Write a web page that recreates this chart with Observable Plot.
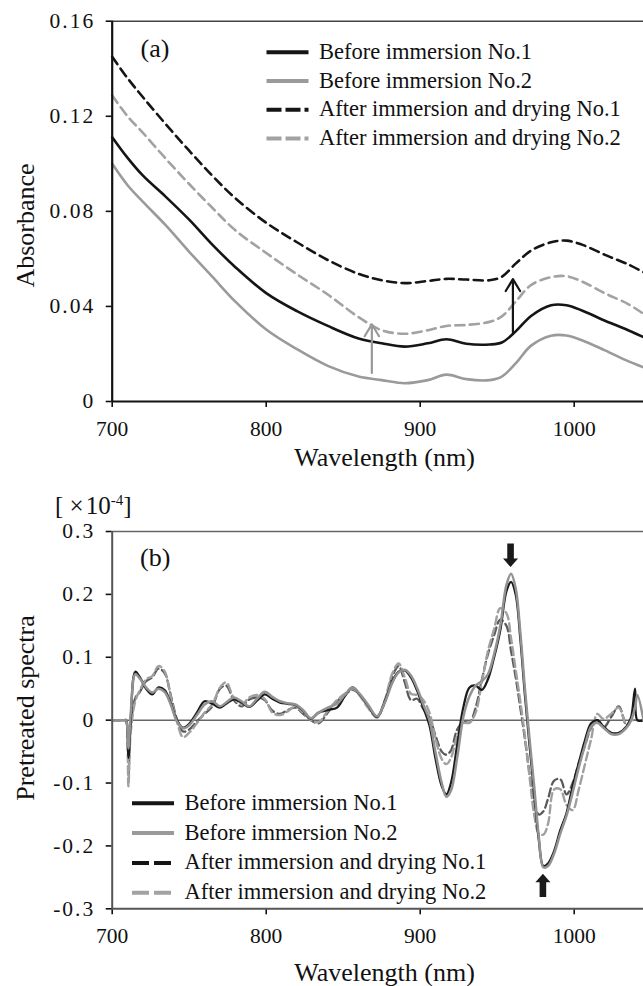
<!DOCTYPE html>
<html><head><meta charset="utf-8">
<script src="https://cdn.jsdelivr.net/npm/d3@7"></script>
<script src="https://cdn.jsdelivr.net/npm/@observablehq/plot@0.6"></script>
<style>
html,body{margin:0;padding:0;background:#fff;}
#wrap{position:relative;width:643px;height:986px;overflow:hidden;font-family:'Liberation Serif','DejaVu Serif',serif;}
#wrap svg{position:absolute;left:0;}
#wrap svg, #wrap svg text{font-family:'Liberation Serif','DejaVu Serif',serif !important;}
#wrap [aria-label="y-axis tick label"]{letter-spacing:2px;}
#wrap [aria-label="x-axis tick"], #wrap [aria-label="y-axis tick"]{stroke-width:1.6px;}
</style></head><body><div id="wrap"></div>
<script>
// ---------- data ----------
const seriesNames = ["Before immersion No.1", "Before immersion No.2", "After immersion and drying No.1", "After immersion and drying No.2"];
const xTicks = [700, 800, 900, 1000];
const xTickLabels = ["700", "800", "900", "1000"];
const topYTicks = [0, 0.04, 0.08, 0.12, 0.16];
const topYTickLabels = ["0", "0.04", "0.08", "0.12", "0.16"];
const botYTicks = [-0.3, -0.2, -0.1, 0, 0.1, 0.2, 0.3];
const botYTickLabels = ["-0.3", "-0.2", "-0.1", "0", "0.1", "0.2", "0.3"];

// (a) absorbance
const topWl      = [700, 710, 720, 735, 750, 765, 780, 800, 820, 840, 860, 875, 890, 905, 917, 930, 945, 953, 962, 972, 985, 995, 1005, 1020, 1035, 1045];
const topBefore1 = [0.1112, 0.1025, 0.0950, 0.0860, 0.0765, 0.0660, 0.0565, 0.0456, 0.0380, 0.0318, 0.0265, 0.0245, 0.0231, 0.0245, 0.0262, 0.0243, 0.0240, 0.0248, 0.0295, 0.0360, 0.0405, 0.0405, 0.0383, 0.0340, 0.0300, 0.0271];
const topBefore2 = [0.1000, 0.0910, 0.0840, 0.0740, 0.0630, 0.0525, 0.0420, 0.0303, 0.0220, 0.0150, 0.0105, 0.0090, 0.0077, 0.0090, 0.0113, 0.0094, 0.0090, 0.0105, 0.0160, 0.0235, 0.0277, 0.0278, 0.0258, 0.0215, 0.0170, 0.0144];
const topAfter1  = [0.1450, 0.1360, 0.1280, 0.1165, 0.1055, 0.0950, 0.0855, 0.0752, 0.0670, 0.0595, 0.0537, 0.0510, 0.0498, 0.0507, 0.0516, 0.0513, 0.0510, 0.0525, 0.0580, 0.0635, 0.0670, 0.0677, 0.0660, 0.0617, 0.0577, 0.0544];
const topAfter2  = [0.1287, 0.1200, 0.1130, 0.1020, 0.0915, 0.0815, 0.0720, 0.0625, 0.0535, 0.0450, 0.0355, 0.0300, 0.0285, 0.0300, 0.0318, 0.0322, 0.0335, 0.0358, 0.0420, 0.0490, 0.0523, 0.0527, 0.0505, 0.0455, 0.0410, 0.0369];
// arrows in (a)
const arrowWl   = [868.6, 960.2];
const arrowFrom = [0.012, 0.029];
const arrowTo   = [0.0325, 0.0515];

// (b) pretreated spectra (x 1e-4)
const botWl = [700, 708, 709, 710.5, 712, 715, 718, 722, 726, 730, 734, 738, 742, 746, 750, 755, 760, 765, 770, 774, 779, 784, 789, 794, 799, 804, 809, 814, 819, 824, 829, 834, 840, 846, 851, 856, 861, 866, 872, 877, 882, 886, 890, 894, 898, 902, 906, 910, 914, 917, 920, 924, 928, 932, 936, 940, 944, 948, 952, 956, 959, 962, 965, 968, 971, 974, 977, 980, 983, 987, 991, 995, 999, 1003, 1007, 1011, 1015, 1019, 1024, 1029, 1034, 1037, 1039.5, 1041, 1045];
const botBefore1 = [0, 0, 0, -0.06, 0.0, 0.077, 0.068, 0.050, 0.041, 0.052, 0.048, 0.027, 0.000, -0.012, -0.006, 0.012, 0.030, 0.026, 0.020, 0.026, 0.033, 0.028, 0.021, 0.031, 0.041, 0.034, 0.028, 0.026, 0.024, 0.015, 0.002, 0.012, 0.016, 0.020, 0.038, 0.052, 0.040, 0.024, 0.005, 0.030, 0.062, 0.077, 0.079, 0.068, 0.047, 0.020, -0.008, -0.062, -0.105, -0.118, -0.100, -0.040, 0.020, 0.052, 0.055, 0.048, 0.065, 0.100, 0.143, 0.205, 0.220, 0.200, 0.130, 0.040, -0.040, -0.115, -0.190, -0.232, -0.228, -0.208, -0.175, -0.148, -0.105, -0.068, -0.032, -0.005, 0.000, -0.010, -0.020, -0.020, -0.010, 0.005, 0.050, 0.000, 0.000];
const botBefore2 = [0, 0, 0, -0.045, 0.010, 0.073, 0.066, 0.052, 0.044, 0.050, 0.045, 0.025, -0.002, -0.013, -0.008, 0.008, 0.025, 0.030, 0.022, 0.028, 0.036, 0.030, 0.022, 0.034, 0.045, 0.037, 0.030, 0.027, 0.025, 0.016, 0.003, 0.012, 0.020, 0.026, 0.040, 0.052, 0.041, 0.025, 0.006, 0.028, 0.060, 0.076, 0.080, 0.071, 0.051, 0.025, 0.000, -0.052, -0.100, -0.122, -0.112, -0.060, 0.005, 0.038, 0.055, 0.062, 0.073, 0.105, 0.150, 0.215, 0.233, 0.210, 0.140, 0.050, -0.030, -0.105, -0.185, -0.234, -0.232, -0.212, -0.180, -0.152, -0.115, -0.075, -0.040, -0.010, -0.004, -0.012, -0.022, -0.022, -0.012, 0.000, 0.020, 0.040, 0.000];
const botAfter1 = [0, 0, 0, -0.09, -0.01, 0.035, 0.045, 0.062, 0.068, 0.082, 0.075, 0.040, 0.002, -0.018, -0.015, -0.002, 0.010, 0.022, 0.050, 0.055, 0.032, 0.022, 0.033, 0.036, 0.032, 0.015, 0.010, 0.016, 0.020, 0.010, 0.000, -0.005, 0.012, 0.030, 0.040, 0.048, 0.040, 0.022, 0.006, 0.028, 0.070, 0.086, 0.060, 0.032, 0.034, 0.018, 0.004, -0.025, -0.050, -0.055, -0.048, -0.015, -0.003, -0.004, 0.020, 0.064, 0.105, 0.135, 0.160, 0.150, 0.110, 0.068, 0.020, -0.030, -0.085, -0.130, -0.150, -0.145, -0.125, -0.096, -0.094, -0.118, -0.100, -0.068, -0.040, -0.012, 0.000, -0.012, 0.005, 0.022, -0.008, 0.000, 0.000, 0.000, 0.000];
const botAfter2 = [0, 0, 0, -0.105, -0.02, 0.030, 0.048, 0.065, 0.070, 0.086, 0.078, 0.038, -0.002, -0.027, -0.020, -0.005, 0.012, 0.025, 0.052, 0.060, 0.035, 0.025, 0.036, 0.040, 0.034, 0.012, 0.008, 0.014, 0.022, 0.012, 0.000, -0.003, 0.015, 0.032, 0.042, 0.050, 0.038, 0.020, 0.004, 0.032, 0.075, 0.090, 0.068, 0.042, 0.040, 0.032, 0.012, -0.030, -0.062, -0.070, -0.060, -0.025, -0.005, -0.004, 0.012, 0.060, 0.110, 0.145, 0.178, 0.170, 0.130, 0.080, 0.030, -0.025, -0.090, -0.150, -0.180, -0.182, -0.165, -0.110, -0.110, -0.135, -0.143, -0.110, -0.070, -0.030, 0.010, 0.002, 0.010, 0.020, -0.008, 0.000, 0.000, 0.000, 0.000];
// block arrows in (b)
const blockWl   = [959.0, 980.0];
const blockTail = [0.2803, -0.282];
const blockTip  = [0.2426, -0.2449];

// ---------- helpers ----------
const FONT = "'Liberation Serif','DejaVu Serif',serif";
const rows = (wl, v) => wl.map((w, i) => ({wl: w, v: v[i]}));
const mapFmt = (ticks, labels) => { const m = new Map(ticks.map((t, i) => [t, labels[i]])); return d => m.has(d) ? m.get(d) : String(d); };
const wrap = document.getElementById("wrap");

// ---------- (a) ----------
const topPlot = Plot.plot({
  width: 643, height: 470,
  marginTop: 20.7, marginBottom: 69, marginLeft: 111.7, marginRight: 0,
  style: {fontFamily: FONT, fontSize: "21.5px", color: "#111", background: "transparent", overflow: "visible"},
  x: {domain: [700, 1045], ticks: xTicks, tickFormat: mapFmt(xTicks, xTickLabels), tickSize: 6, tickPadding: 13, label: null},
  y: {domain: [0, 0.16], ticks: topYTicks, tickFormat: mapFmt(topYTicks, topYTickLabels), tickSize: 6, tickPadding: 11, label: null},
  marks: [
    Plot.ruleY([0.16], {stroke: "#444", strokeWidth: 1.4}),
    Plot.line(rows(topWl, topAfter1), {x: "wl", y: "v", stroke: "#151515", strokeWidth: 2.6, strokeDasharray: "9,5.5", curve: "catmull-rom"}),
    Plot.line(rows(topWl, topAfter2), {x: "wl", y: "v", stroke: "#a2a2a2", strokeWidth: 2.6, strokeDasharray: "9,5.5", curve: "catmull-rom"}),
    Plot.line(rows(topWl, topBefore1), {x: "wl", y: "v", stroke: "#151515", strokeWidth: 2.6, curve: "catmull-rom"}),
    Plot.line(rows(topWl, topBefore2), {x: "wl", y: "v", stroke: "#9a9a9a", strokeWidth: 2.6, curve: "catmull-rom"}),
    Plot.arrow([{wl: arrowWl[0], a: arrowFrom[0], b: arrowTo[0]}], {x1: "wl", y1: "a", x2: "wl", y2: "b", stroke: "#999", strokeWidth: 2.2, headLength: 9.5, headAngle: 62}),
    Plot.arrow([{wl: arrowWl[1], a: arrowFrom[1], b: arrowTo[1]}], {x1: "wl", y1: "a", x2: "wl", y2: "b", stroke: "#151515", strokeWidth: 2.2, headLength: 9.5, headAngle: 62}),
    Plot.ruleX([700], {stroke: "#111", strokeWidth: 2.2}),
    Plot.ruleY([0], {stroke: "#111", strokeWidth: 2.2})
  ]
});
topPlot.style.top = "0px";
wrap.appendChild(topPlot);

// ---------- (b) ----------
function blockArrows(index, scales) {
  const g = d3.create("svg:g");
  blockWl.forEach((w, i) => {
    const x = scales.x(w), yt = scales.y(blockTail[i]), yp = scales.y(blockTip[i]);
    const dir = Math.sign(yp - yt);
    const hl = 8.5, hw = 7.5, sw = 3.3;
    const yb = yp - dir * hl;
    const pts = [[x - sw, yt], [x + sw, yt], [x + sw, yb], [x + hw, yb], [x, yp], [x - hw, yb], [x - sw, yb]];
    g.append("polygon").attr("points", pts.map(p => p.join(",")).join(" ")).attr("fill", "#1a1a1a");
  });
  return g.node();
}

const botPlot = Plot.plot({
  width: 643, height: 516,
  marginTop: 61, marginBottom: 77.7, marginLeft: 111.7, marginRight: 0,
  style: {fontFamily: FONT, fontSize: "21.5px", color: "#111", background: "transparent", overflow: "visible"},
  x: {domain: [700, 1045], ticks: xTicks, tickFormat: mapFmt(xTicks, xTickLabels), tickSize: 6, tickPadding: 13, label: null},
  y: {domain: [-0.3, 0.3], ticks: botYTicks, tickFormat: mapFmt(botYTicks, botYTickLabels), tickSize: 6, tickPadding: 11, label: null},
  marks: [
    Plot.ruleY([0.3], {stroke: "#666", strokeWidth: 1.4}),
    Plot.ruleY([0], {stroke: "#666", strokeWidth: 1.5}),
    Plot.line(rows(botWl, botAfter1), {x: "wl", y: "v", stroke: "#5a5a5a", strokeWidth: 2.3, strokeDasharray: "8,4", curve: "catmull-rom"}),
    Plot.line(rows(botWl, botAfter2), {x: "wl", y: "v", stroke: "#a0a0a0", strokeWidth: 2.4, strokeDasharray: "8,4", curve: "catmull-rom"}),
    Plot.line(rows(botWl, botBefore1), {x: "wl", y: "v", stroke: "#1a1a1a", strokeWidth: 2.3, curve: "catmull-rom"}),
    Plot.line(rows(botWl, botBefore2), {x: "wl", y: "v", stroke: "#929292", strokeWidth: 2.5, curve: "catmull-rom"}),
    blockArrows,
    Plot.ruleX([700], {stroke: "#555", strokeWidth: 2}),
    Plot.ruleY([-0.3], {stroke: "#555", strokeWidth: 2})
  ]
});
botPlot.style.top = "470px";
wrap.appendChild(botPlot);

// ---------- labels & legends ----------
const ov = d3.create("svg").attr("width", 643).attr("height", 986)
  .style("top", "0px").style("font-family", FONT).style("pointer-events", "none");

function label(text, x, y, size, anchor, rot) {
  const t = ov.append("text").attr("font-size", size).attr("fill", "#111")
    .attr("text-anchor", anchor || "start")
    .attr("transform", `translate(${x},${y})` + (rot ? ` rotate(${rot})` : ""));
  t.text(text);
  return t;
}
label("(a)", 140.5, 56.5, 26);
label("(b)", 140, 566, 26);
label("Absorbance", 34, 225.5, 26, "middle", -90);
label("Pretreated spectra", 34, 708, 26, "middle", -90);
label("Wavelength (nm)", 384.5, 465.6, 26, "middle");
label("Wavelength (nm)", 384.5, 980.6, 26, "middle");
const ex = ov.append("text").attr("font-size", 25).attr("fill", "#111").attr("x", 55).attr("y", 513.5);
ex.append("tspan").text("[ ×\u200a10");
ex.append("tspan").attr("font-size", 15).attr("dy", -9).text("-4");
ex.append("tspan").attr("dy", 9).text("]");

const legStyles = [
  {stroke: "#151515", dash: null},
  {stroke: "#9a9a9a", dash: null},
  {stroke: "#151515", dash: "15,4"},
  {stroke: "#a2a2a2", dash: "15,4"}
];
function legend(x0, x1, tx, y0, dy, dash2) {
  seriesNames.forEach((name, i) => {
    const y = y0 + i * dy, s = legStyles[i];
    const ln = ov.append("line").attr("x1", x0).attr("x2", x1).attr("y1", y).attr("y2", y)
      .attr("stroke", s.stroke).attr("stroke-width", 4);
    if (s.dash) ln.attr("stroke-dasharray", dash2 || s.dash);
    ov.append("text").attr("x", tx).attr("y", y + 6.5).attr("font-size", 22.5).attr("fill", "#111").text(name);
  });
}
legend(266.5, 308.5, 319, 52.3, 28.7);
legend(132, 174, 184.5, 803.3, 29.8, "17,5");

wrap.appendChild(ov.node());
</script></body></html>
